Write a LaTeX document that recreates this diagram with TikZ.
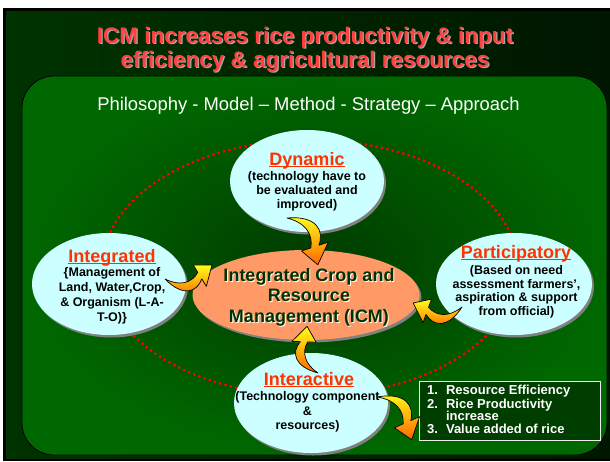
\documentclass[tikz,border=0pt]{standalone}
\usepackage{fontspec}
\setmainfont{Liberation Sans}
\usetikzlibrary{shapes.geometric,calc,shadows}
\definecolor{bgdark}{RGB}{0,51,0}
\definecolor{bgdarker}{RGB}{0,22,0}
\definecolor{ingreen}{RGB}{0,104,0}
\definecolor{indark}{RGB}{0,58,0}
\definecolor{titlered}{RGB}{255,64,64}
\definecolor{headred}{RGB}{255,51,0}
\definecolor{cyanfill}{RGB}{204,255,255}
\definecolor{salmon}{RGB}{255,153,102}
\definecolor{icmgreen}{RGB}{0,51,0}
\definecolor{boxfill}{RGB}{0,62,0}
\newcommand\hul[1]{\setbox0\hbox{#1}\leavevmode\rlap{\rule[-2pt]{\wd0}{1.4pt}}\box0}
\newcommand\curvearrow[4]{%
  \begin{scope}[shift={#1},rotate=#2,x=#3pt,y=#4pt]
    \shade[top color=yellow!90!white, bottom color=orange!80!red, draw=black,
           line width=0.7pt, line join=round]
      (0,0) .. controls (0.25,0.36) and (0.55,0.34) .. (0.72,0.162)
      -- (0.766,0.294) -- (1,0) -- (0.634,-0.084) -- (0.68,0.048)
      .. controls (0.5,0.18) and (0.25,0.18) .. cycle;
  \end{scope}}
\begin{document}
\begin{tikzpicture}[x=1pt,y=-1pt,
  bubble/.style={ellipse, fill=cyanfill, inner sep=0, minimum width=154pt, minimum height=102pt,
    general shadow={fill=gray, shadow xshift=2pt, shadow yshift=-2.5pt}},
  hdtext/.style={inner sep=0, anchor=base, text=headred, font=\fontsize{18}{20}\selectfont\bfseries},
  bodytext/.style={inner sep=0, align=center, text=black},
  ttl/.style={inner sep=0, anchor=base, font=\fontsize{22.5}{24}\selectfont\bfseries},
  icmfont/.style={inner sep=0, align=center, font=\fontsize{18}{20.5}\selectfont\bfseries}
]
\useasboundingbox (0,0) rectangle (610,461);
\fill[white] (0,0) rectangle (610,461);
\fill[black] (3,8) rectangle (610,461);
\shade[left color=bgdark, right color=bgdarker] (6,11) rectangle (610,458);
\shade[inner color=indark, outer color=ingreen, rounded corners=32pt] (22,76) rectangle (607,455);
\draw[black, line width=0.8pt, rounded corners=32pt] (22,76) rectangle (607,455);

% title
\node[ttl, text=gray!70] (t1s) at (306.3,44.3) {ICM increases rice productivity \& input};
\node[ttl, text=titlered] (t1) at (305,43) {ICM increases rice productivity \& input};
\node[ttl, text=gray!70] (t2s) at (306.3,68.3) {efficiency \& agricultural resources};
\node[ttl, text=titlered] (t2) at (305,67) {efficiency \& agricultural resources};
\node[inner sep=0, anchor=base, text=white, font=\fontsize{18.4}{20}\selectfont] (sub) at (308.5,110)
  {Philosophy - Model – Method - Strategy – Approach};

% dotted ring
\draw[red, line width=2.3pt, dash pattern=on 2.3pt off 3.2pt] (310,268) ellipse [x radius=208, y radius=128];

% bubbles
\node[bubble] (dynE) at (307,181) {};
\node[bubble] (intE) at (109,284) {};
\node[bubble, minimum width=156pt] (parE) at (514,284) {};
\node[bubble, minimum height=100pt] (iacE) at (311,403) {};
\node[ellipse, fill=salmon, inner sep=0, minimum width=227pt, minimum height=90pt,
  general shadow={fill=gray, shadow xshift=2pt, shadow yshift=-2.5pt}] (icmE) at (306,295) {};

% bubble texts
\node[hdtext] (dynH) at (307,165) {\hul{Dynamic}};
\node[bodytext, font=\fontsize{12.5}{14}\selectfont\bfseries] (dynT) at (307,191)
  {(technology have to\\be evaluated and\\improved)};
\node[hdtext] (intH) at (112,262) {\hul{Integrated}};
\node[bodytext, font=\fontsize{12.5}{15}\selectfont\bfseries] (intT) at (112,296)
  {\{Management of\\Land, Water,Crop,\\\& Organism (L-A-\\T-O)\}};
\node[hdtext] (parH) at (516,258) {\hul{Participatory}};
\node[bodytext, font=\fontsize{12.5}{13.5}\selectfont\bfseries] (parT) at (516.5,292)
  {(Based on need\\assessment farmers’,\\aspiration \& support\\from official)};
\node[hdtext] (iacH) at (309,385) {\hul{Interactive}};
\node[bodytext, font=\fontsize{12.5}{14.5}\selectfont\bfseries] (iacT) at (307.5,412)
  {(Technology component\\\&\\resources)};

% ICM text with white shadow
\node[icmfont, text=white] (icmS) at (310,298) {Integrated Crop and\\Resource\\Management (ICM)};
\node[icmfont, text=icmgreen] (icmT) at (309,297) {Integrated Crop and\\Resource\\Management (ICM)};

% result box
\node[draw=white!85!gray, fill=boxfill, line width=0.8pt, minimum width=181pt, minimum height=59pt,
  anchor=north west, inner sep=0] (box) at (419,381) {};
\node[anchor=west, inner sep=0, text=white, font=\fontsize{13}{13}\selectfont\bfseries] (boxT)
  at ($(box.west)+(8,0.5)$)
  {\begin{tabular}{@{}l@{\hspace{8pt}}l@{}}1. & Resource Efficiency\\ 2. & Rice Productivity\\[-1pt]
   & increase\\[0pt] 3. & Value added of rice\end{tabular}};

% curved block arrows
\coordinate (a1) at ($(dynE.center)+(-20,37)$);
\coordinate (a2) at ($(intE.center)+(56,-5)$);
\coordinate (a3) at ($(parE.center)+(-52,23)$);
\coordinate (a4) at ($(iacE.center)+(7,-30)$);
\coordinate (a5) at ($(iacE.center)+(66,-6)$);
\curvearrow{(a1)}{-56.6}{56}{72}
\curvearrow{(a2)}{16.6}{49}{-64}
\curvearrow{(a3)}{175.3}{49}{64}
\curvearrow{(a4)}{103.2}{48}{62}
\curvearrow{(a5)}{-50.9}{55}{70}
\end{tikzpicture}
\end{document}
